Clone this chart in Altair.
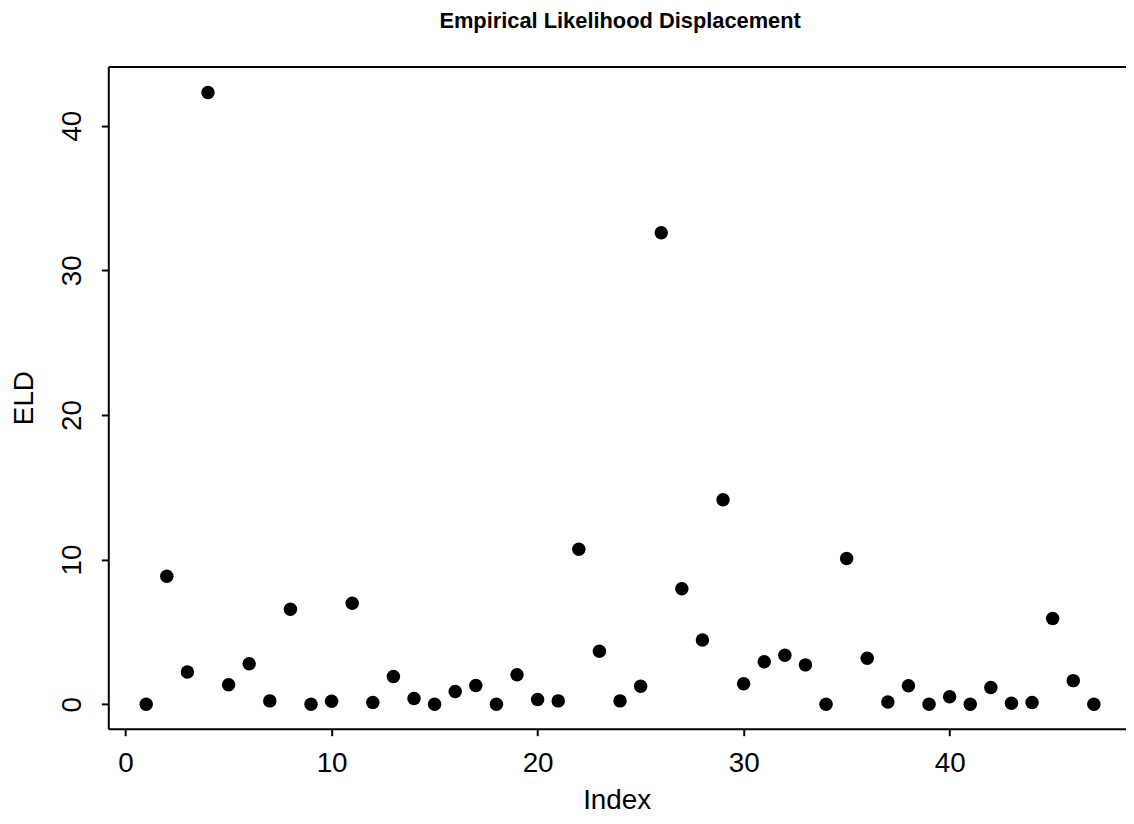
import altair as alt
import pandas as pd

# ---- data ----
index = list(range(1, 48))
eld = [0.00, 8.85, 2.22, 42.30, 1.35, 2.79, 0.23, 6.57, 0.00, 0.21,
       6.98, 0.12, 1.92, 0.39, 0.00, 0.88, 1.30, 0.00, 2.04, 0.32,
       0.23, 10.71, 3.66, 0.23, 1.24, 32.60, 7.99, 4.44, 14.14, 1.42,
       2.93, 3.39, 2.72, 0.00, 10.07, 3.18, 0.16, 1.28, 0.00, 0.51,
       0.00, 1.15, 0.07, 0.12, 5.93, 1.63, 0.00]
x_ticks = [0, 10, 20, 30, 40]
y_ticks = [0, 10, 20, 30, 40]
title_text = "Empirical Likelihood Displacement"
x_title = "Index"
y_title = "ELD"

df = pd.DataFrame({"Index": index, "ELD": eld})

FONT = "Liberation Sans"
W, H = 1025, 667
xs = alt.Scale(domain=[-0.84, 48.56], nice=False, zero=False)
ys = alt.Scale(domain=[-1.696, 44.096], nice=False, zero=False)

x_axis = alt.Axis(
    values=x_ticks, grid=False, orient="bottom",
    domain=True, domainColor="black", domainWidth=2,
    ticks=True, tickSize=7, tickWidth=2, tickColor="black",
    labelFont=FONT, labelFontSize=28, labelColor="black",
    labelBaseline="alphabetic", labelPadding=36, labelFlush=False,
    labelOverlap=False,
    title=x_title, titleFont=FONT, titleFontSize=28, titleFontWeight="normal",
    titleColor="black", titleBaseline="alphabetic", titleAlign="center",
    titleX=512, titleY=80,
)
y_axis = alt.Axis(
    values=y_ticks, grid=False, orient="left",
    domain=True, domainColor="black", domainWidth=2,
    ticks=True, tickSize=7, tickWidth=2, tickColor="black",
    labelFont=FONT, labelFontSize=28, labelColor="black",
    labelAngle=270, labelAlign="center", labelBaseline="alphabetic",
    labelPadding=21, labelFlush=False, labelOverlap=False,
    title=y_title, titleFont=FONT, titleFontSize=28, titleFontWeight="normal",
    titleColor="black", titleAngle=270, titleAlign="center",
    titleBaseline="alphabetic", titleX=-76, titleY=H / 2,
)

points = alt.Chart(df).mark_circle(size=184, color="black", opacity=1).encode(
    x=alt.X("Index:Q", scale=xs, axis=x_axis),
    y=alt.Y("ELD:Q", scale=ys, axis=y_axis),
)

# invisible layer that only carries a top axis line (the top edge of the box)
top_frame = alt.Chart(df).mark_circle(opacity=0).encode(
    x=alt.X("Index:Q", scale=xs, axis=alt.Axis(
        orient="top", labels=False, ticks=False, grid=False, title="",
        domain=True, domainColor="black", domainWidth=2)),
)

chart = alt.layer(points, top_frame).resolve_axis(x="independent").properties(
    width=W, height=H,
    title=alt.Title(title_text, font=FONT, fontSize=22, fontWeight="bold",
                    color="black", anchor="middle", frame="group",
                    baseline="bottom", offset=12, dx=3),
    padding={"left": 101, "top": 56, "right": 0, "bottom": 85},
    autosize=alt.AutoSizeParams(type="none"),
).configure_view(strokeWidth=0).configure(background="white")

chart.save("out.html", embed_options={"renderer": "svg", "actions": False})
